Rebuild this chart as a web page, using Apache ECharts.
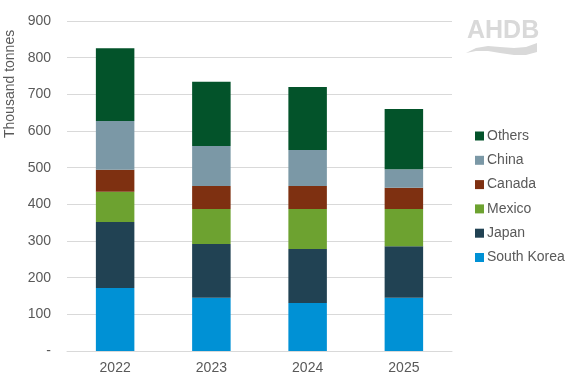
<!DOCTYPE html>
<html><head><meta charset="utf-8">
<script src="https://cdn.jsdelivr.net/npm/echarts@6/dist/echarts.min.js"></script>
<style>html,body{margin:0;padding:0;background:#fff}#c{width:574px;height:390px}</style>
</head><body><div id="c"></div>
<script>
var categories = ['2022', '2023', '2024', '2025'];
var southKorea = [172, 145, 131, 145];
var japan = [180, 147, 147, 141];
var mexico = [82, 95, 109, 101];
var canada = [60, 63, 63, 58];
var china = [133, 109, 98, 51];
var others = [199, 175, 172, 164];
var seriesNames = ['South Korea', 'Japan', 'Mexico', 'Canada', 'China', 'Others'];
var seriesColors = ['#0091D5', '#214253', '#6DA230', '#7E3011', '#7B98A6', '#03532A'];
var seriesData = [southKorea, japan, mexico, canada, china, others];

var chart = echarts.init(document.getElementById('c'), null, {renderer: 'canvas'});
var font = 'Arial, "Liberation Sans", sans-serif';
var series = seriesNames.map(function (n, i) {
  return {name: n, type: 'bar', stack: 't', data: seriesData[i], barWidth: '40%',
    itemStyle: {color: seriesColors[i]}};
});
chart.setOption({
  animation: false,
  textStyle: {fontFamily: font},
  grid: {left: 67, right: 122, top: 21, bottom: 39},
  legend: {
    data: seriesNames.slice().reverse(), orient: 'vertical', left: 470, top: 124,
    itemWidth: 9, itemHeight: 9, itemGap: 10.3, icon: 'rect',
    textStyle: {color: '#595959', fontSize: 14, fontFamily: font, padding: [0, 0, 0, -2]}
  },
  xAxis: {type: 'category', data: categories,
    axisLine: {lineStyle: {color: '#d9d9d9'}}, axisTick: {show: false},
    axisLabel: {color: '#595959', fontSize: 14, margin: 10}},
  yAxis: {type: 'value', min: 0, max: 900, interval: 100,
    axisLine: {show: false}, axisTick: {show: false},
    splitLine: {lineStyle: {color: '#d9d9d9'}},
    axisLabel: {color: '#595959', fontSize: 14, margin: 16,
      formatter: function (v) { return v === 0 ? '-' : v; }}},
  graphic: [
    {type: 'text', x: 3, y: 138, rotation: Math.PI / 2,
      style: {text: 'Thousand tonnes', fill: '#595959', font: '14px ' + font, textVerticalAlign: 'top'}},
    {type: 'text', x: 467, y: 19, style: {text: 'AHDB', fill: '#d9d9d9', font: 'bold 25px ' + font}},
    {type: 'polygon', shape: {points: [[466, 53], [476, 48], [488, 46], [500, 47], [514, 48], [526, 47], [537, 43],
      [537, 52], [526, 55], [514, 55], [500, 53], [488, 51], [476, 51]]}, style: {fill: '#d9d9d9'}}
  ],
  series: series
});
</script></body></html>
